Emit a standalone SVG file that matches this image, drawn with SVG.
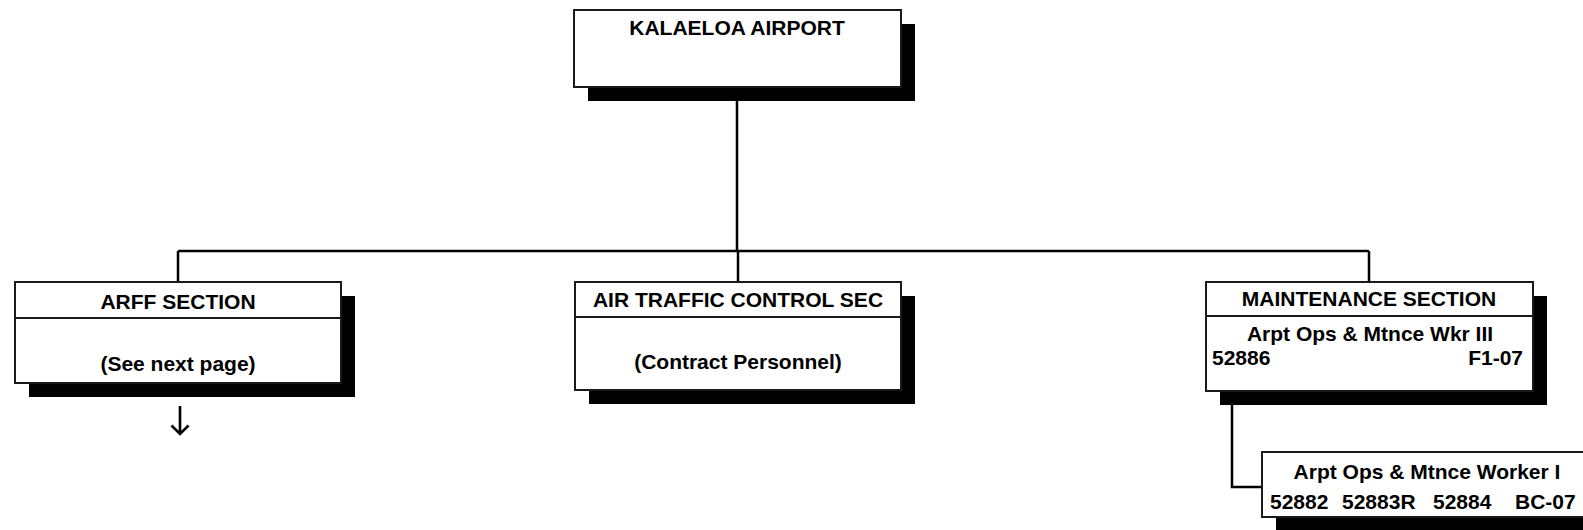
<svg xmlns="http://www.w3.org/2000/svg" width="1583" height="530" viewBox="0 0 1583 530">
<style>
.box{fill:#fff;stroke:#1a1a1a;stroke-width:2}
.sh{fill:#000}
.div{stroke:#1a1a1a;stroke-width:2}
.t{font-family:"Liberation Sans",Arial,sans-serif;font-weight:bold;font-size:21px;fill:#000}
.c{text-anchor:middle}
.e{text-anchor:end}
.ln{stroke:#000;stroke-width:2.5;fill:none}
</style>
<rect width="1583" height="530" fill="#fff"/>
<g id="connectors">
<path class="ln" d="M737,87 V251"/>
<path class="ln" d="M178,251 H1369"/>
<path class="ln" d="M178,251 V282"/>
<path class="ln" d="M738,251 V282"/>
<path class="ln" d="M1369,251 V282"/>
<path class="ln" d="M1232,391 V487 H1262"/>
</g>
<g id="kalaeloa">
<rect class="sh" x="588" y="24" width="327" height="77"/>
<rect class="box" x="574" y="10" width="327" height="77"/>
<text class="t c" x="737" y="35">KALAELOA AIRPORT</text>
</g>
<g id="arff">
<rect class="sh" x="29" y="296" width="326" height="101"/>
<rect class="box" x="15" y="282" width="326" height="101"/>
<line class="div" x1="15" y1="318" x2="341" y2="318"/>
<text class="t c" x="178" y="309">ARFF SECTION</text>
<text class="t c" x="178" y="371">(See next page)</text>
</g>
<g id="arff-arrow">
<path d="M180,406 V433 M171.5,425.5 L180,434 L188.5,425.5" stroke="#000" stroke-width="2.6" fill="none"/>
</g>
<g id="atc">
<rect class="sh" x="589" y="296" width="326" height="108"/>
<rect class="box" x="575" y="282" width="326" height="108"/>
<line class="div" x1="575" y1="317" x2="901" y2="317"/>
<text class="t c" x="738" y="307">AIR TRAFFIC CONTROL SEC</text>
<text class="t c" x="738" y="369">(Contract Personnel)</text>
</g>
<g id="maintenance">
<rect class="sh" x="1220" y="296" width="327" height="109"/>
<rect class="box" x="1206" y="282" width="327" height="109"/>
<line class="div" x1="1206" y1="316" x2="1533" y2="316"/>
<text class="t c" x="1369" y="306">MAINTENANCE SECTION</text>
<text class="t c" x="1370" y="341">Arpt Ops &amp; Mtnce Wkr III</text>
<text class="t" x="1212" y="365">52886</text>
<text class="t e" x="1523" y="365">F1-07</text>
</g>
<g id="worker">
<rect class="sh" x="1276" y="466" width="330" height="65"/>
<rect class="box" x="1262" y="452" width="330" height="65"/>
<text class="t c" x="1427" y="479">Arpt Ops &amp; Mtnce Worker I</text>
<text class="t" x="1270" y="509">52882</text>
<text class="t" x="1342" y="509">52883R</text>
<text class="t" x="1433" y="509">52884</text>
<text class="t" x="1515" y="509">BC-07</text>
</g>
</svg>
